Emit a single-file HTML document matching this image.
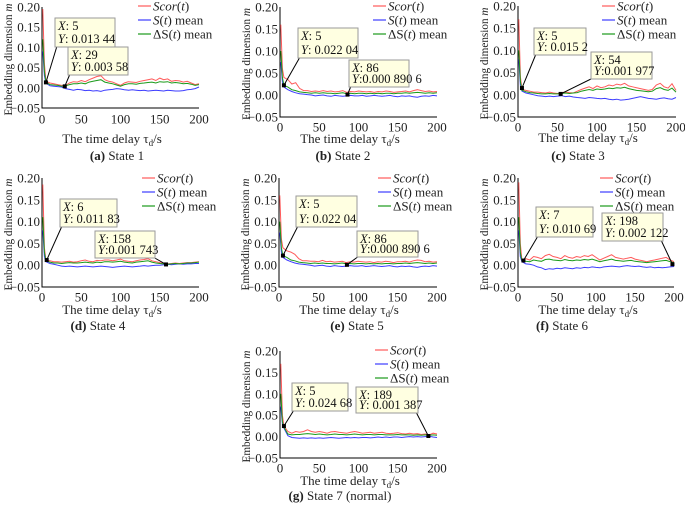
<!DOCTYPE html>
<html><head><meta charset="utf-8"><style>
html,body{margin:0;padding:0;background:#fff;}
svg{display:block;font-family:"Liberation Serif",serif;}
svg text{font-family:"Liberation Serif",serif;}
</style></head><body>
<svg id="fig" width="685" height="514" viewBox="0 0 685 514" font-family="Liberation Serif, serif"></svg>
<script>
const t = [1,3,5,10,15,20,25,30,35,40,45,50,55,60,65,70,75,80,85,90,95,100,105,110,115,120,125,130,135,140,145,150,155,160,165,170,175,180,185,190,195,200];
const xTicks = [0,50,100,150,200];
const yTicks = [0.20,0.15,0.10,0.05,0.00,-0.05];
const yTickLabels = ["0.20","0.15","0.10","0.05","0.00","\u22120.05"];

const scorA = [0.195,0.06,0.016,0.012,0.010,0.008,0.006,0.006,0.012,0.015,0.014,0.018,0.015,0.020,0.024,0.028,0.030,0.020,0.016,0.014,0.010,0.006,0.012,0.015,0.014,0.013,0.016,0.018,0.020,0.022,0.018,0.024,0.020,0.022,0.016,0.018,0.017,0.014,0.016,0.012,0.008,0.010];
const sA = [0.09,0.03,0.012,0.005,0.004,0.003,0.002,-0.002,-0.004,-0.006,-0.004,-0.005,-0.007,-0.006,-0.008,-0.007,-0.009,-0.006,-0.005,-0.004,-0.002,-0.003,-0.005,-0.006,-0.005,-0.006,-0.007,-0.006,-0.008,-0.007,-0.006,-0.007,-0.008,-0.006,-0.007,-0.008,-0.008,-0.007,-0.005,-0.004,-0.002,0.002];
const dA = [0.12,0.04,0.014,0.008,0.007,0.006,0.004,0.005,0.008,0.010,0.010,0.012,0.010,0.014,0.016,0.018,0.020,0.014,0.012,0.010,0.007,0.004,0.008,0.010,0.010,0.009,0.011,0.012,0.013,0.014,0.012,0.015,0.014,0.015,0.012,0.013,0.012,0.010,0.011,0.009,0.006,0.008];

const scorB = [0.16,0.06,0.04,0.035,0.025,0.028,0.015,0.010,0.010,0.008,0.009,0.008,0.010,0.008,0.009,0.007,0.008,0.010,0.006,0.008,0.007,0.009,0.008,0.007,0.008,0.006,0.008,0.007,0.009,0.008,0.006,0.007,0.008,0.009,0.007,0.010,0.012,0.010,0.008,0.009,0.007,0.008];
const sB = [0.075,0.03,0.018,0.012,0.008,0.005,0.003,0.002,0.001,0.000,-0.002,-0.001,0.000,-0.002,-0.003,-0.001,-0.002,-0.003,-0.002,-0.001,-0.002,-0.002,-0.001,-0.003,-0.002,-0.001,-0.002,-0.003,-0.002,-0.001,-0.003,-0.004,-0.002,-0.003,-0.002,-0.004,-0.005,-0.003,-0.002,-0.003,-0.001,-0.002];
const dB = [0.10,0.04,0.022,0.018,0.012,0.010,0.007,0.006,0.005,0.004,0.005,0.004,0.005,0.004,0.004,0.003,0.004,0.005,0.003,0.004,0.003,0.004,0.004,0.003,0.004,0.003,0.004,0.003,0.004,0.004,0.003,0.004,0.004,0.005,0.004,0.005,0.006,0.005,0.004,0.005,0.004,0.005];

const scorC = [0.17,0.04,0.012,0.010,0.008,0.006,0.006,0.005,0.004,0.006,0.004,0.003,0.005,0.006,0.005,0.004,0.008,0.012,0.015,0.018,0.014,0.020,0.016,0.018,0.022,0.020,0.024,0.022,0.026,0.020,0.018,0.016,0.014,0.012,0.010,0.012,0.022,0.026,0.018,0.015,0.025,0.010];
const sC = [0.08,0.02,0.008,0.004,0.002,0.000,-0.002,-0.003,-0.004,-0.003,-0.004,-0.003,-0.002,-0.004,-0.003,-0.005,-0.006,-0.007,-0.008,-0.006,-0.007,-0.008,-0.009,-0.008,-0.010,-0.011,-0.010,-0.012,-0.011,-0.010,-0.008,-0.006,-0.004,-0.006,-0.008,-0.009,-0.010,-0.008,-0.007,-0.009,-0.010,-0.006];
const dC = [0.10,0.03,0.010,0.007,0.005,0.004,0.003,0.002,0.002,0.003,0.002,0.002,0.003,0.004,0.003,0.004,0.005,0.008,0.010,0.012,0.010,0.013,0.012,0.013,0.015,0.014,0.016,0.015,0.017,0.014,0.012,0.010,0.009,0.008,0.007,0.008,0.014,0.016,0.012,0.010,0.015,0.006];

const scorD = [0.185,0.04,0.012,0.010,0.008,0.008,0.007,0.008,0.009,0.007,0.008,0.010,0.012,0.009,0.008,0.011,0.010,0.012,0.012,0.010,0.012,0.014,0.010,0.009,0.008,0.010,0.012,0.013,0.015,0.010,0.008,0.006,0.004,0.003,0.004,0.005,0.004,0.005,0.006,0.006,0.007,0.008];
const sD = [0.08,0.02,0.008,0.004,0.002,0.000,-0.002,-0.003,-0.002,-0.003,-0.004,-0.003,-0.002,-0.003,-0.004,-0.003,-0.002,-0.003,-0.004,-0.005,-0.004,-0.003,-0.002,-0.003,-0.004,-0.003,-0.002,-0.001,-0.002,-0.001,0.000,0.000,0.001,0.002,0.001,0.002,0.003,0.002,0.003,0.003,0.004,0.004];
const dD = [0.11,0.03,0.010,0.007,0.005,0.005,0.004,0.005,0.006,0.005,0.005,0.006,0.007,0.006,0.005,0.007,0.006,0.008,0.008,0.007,0.008,0.009,0.007,0.006,0.005,0.007,0.008,0.009,0.010,0.007,0.005,0.004,0.003,0.002,0.003,0.004,0.003,0.004,0.005,0.005,0.006,0.007];

const scorE = [0.16,0.06,0.04,0.033,0.030,0.025,0.015,0.010,0.010,0.009,0.009,0.008,0.011,0.008,0.009,0.007,0.008,0.009,0.006,0.008,0.007,0.009,0.008,0.007,0.008,0.006,0.008,0.007,0.009,0.008,0.006,0.008,0.008,0.009,0.007,0.010,0.012,0.011,0.008,0.009,0.007,0.008];
const sE = [0.075,0.03,0.018,0.012,0.008,0.005,0.003,0.002,0.001,0.000,-0.002,-0.001,0.000,-0.002,-0.003,-0.001,-0.002,-0.003,-0.002,-0.001,-0.002,-0.002,-0.001,-0.003,-0.002,-0.001,-0.002,-0.003,-0.002,-0.001,-0.003,-0.004,-0.002,-0.003,-0.002,-0.004,-0.005,-0.003,-0.002,-0.003,-0.001,-0.002];
const dE = [0.10,0.04,0.022,0.018,0.012,0.010,0.007,0.006,0.005,0.004,0.005,0.004,0.005,0.004,0.004,0.003,0.004,0.005,0.003,0.004,0.003,0.004,0.004,0.003,0.004,0.003,0.004,0.003,0.004,0.004,0.003,0.004,0.004,0.005,0.004,0.005,0.006,0.005,0.004,0.005,0.004,0.005];

const scorF = [0.19,0.05,0.012,0.015,0.012,0.020,0.018,0.015,0.022,0.025,0.020,0.018,0.015,0.022,0.018,0.016,0.020,0.018,0.022,0.020,0.024,0.018,0.012,0.016,0.020,0.024,0.018,0.016,0.014,0.016,0.018,0.014,0.012,0.010,0.008,0.010,0.012,0.014,0.016,0.018,0.012,0.008];
const sF = [0.08,0.02,0.008,0.003,0.002,0.000,-0.004,-0.006,-0.010,-0.008,-0.009,-0.007,-0.008,-0.006,-0.007,-0.008,-0.006,-0.007,-0.005,-0.006,-0.004,-0.005,-0.006,-0.004,-0.003,-0.002,-0.003,-0.004,-0.002,-0.001,-0.002,-0.003,-0.002,-0.004,-0.005,-0.004,-0.006,-0.005,-0.006,-0.005,-0.004,-0.003];
const dF = [0.11,0.03,0.010,0.009,0.008,0.012,0.010,0.009,0.013,0.014,0.012,0.011,0.010,0.013,0.011,0.010,0.012,0.011,0.013,0.012,0.014,0.011,0.008,0.010,0.012,0.014,0.011,0.010,0.009,0.010,0.011,0.009,0.008,0.007,0.006,0.007,0.008,0.009,0.010,0.011,0.008,0.006];

const scorG = [0.17,0.05,0.025,0.012,0.008,0.012,0.010,0.012,0.016,0.012,0.010,0.012,0.010,0.008,0.011,0.012,0.010,0.009,0.008,0.010,0.012,0.010,0.008,0.009,0.010,0.008,0.009,0.010,0.008,0.007,0.008,0.009,0.007,0.006,0.008,0.006,0.007,0.005,0.006,0.004,0.008,0.006];
const sG = [0.07,0.03,0.020,0.002,-0.002,-0.003,-0.004,-0.003,-0.004,-0.003,-0.004,-0.003,-0.004,-0.003,-0.002,-0.003,-0.004,-0.003,-0.002,-0.003,-0.002,-0.003,-0.002,-0.002,-0.003,-0.002,-0.001,-0.002,-0.001,-0.002,-0.001,-0.001,-0.002,-0.001,0.000,-0.001,0.000,-0.001,0.000,0.001,-0.001,-0.002];
const dG = [0.10,0.035,0.022,0.006,0.004,0.005,0.005,0.006,0.007,0.006,0.005,0.006,0.005,0.004,0.005,0.006,0.005,0.005,0.004,0.005,0.006,0.005,0.004,0.005,0.005,0.004,0.005,0.005,0.004,0.004,0.004,0.005,0.004,0.004,0.004,0.003,0.004,0.003,0.004,0.003,0.004,0.003];

const tipXs = [[5,29],[5,86],[5,54],[6,158],[5,86],[7,198],[5,189]];
const tipYs = [[0.01344,0.00358],[0.02204,0.0008906],[0.0152,0.001977],[0.01183,0.001743],[0.02204,0.0008906],[0.01069,0.002122],[0.02468,0.001387]];
const tipYLabels = [[": 0.013 44",": 0.003 58"],[": 0.022 04",":0.000 890 6"],[": 0.015 2",":0.001 977"],[": 0.011 83",":0.001 743"],[": 0.022 04",":0.000 890 6"],[": 0.010 69",": 0.002 122"],[": 0.024 68",": 0.001 387"]];
const captions = [["(a)"," State 1"],["(b)"," State 2"],["(c)"," State 3"],["(d)"," State 4"],["(e)"," State 5"],["(f)"," State 6"],["(g)"," State 7 (normal)"]];

const layouts = [
 {id:'a',x0:42,x1:199,yT:7,yB:108,tickY:119,xlab:139,leg:153,legY:6,boxes:[[55,18,60,29],[68,47,60,28]],cap:[117,160]},
 {id:'b',x0:280,x1:437,yT:7,yB:117,tickY:127,xlab:139,leg:388,legY:6,boxes:[[298,28,60,30],[349,60,60,27]],cap:[343,160]},
 {id:'c',x0:518,x1:676,yT:6,yB:117,tickY:127,xlab:138,leg:617,legY:6,boxes:[[534,28,52,27],[591,52,61,27]],cap:[578,160]},
 {id:'d',x0:42,x1:199,yT:178,yB:287,tickY:297,xlab:310,leg:157,legY:178,boxes:[[60,199,57,28],[95,231,60,27]],cap:[98,330]},
 {id:'e',x0:279,x1:437,yT:178,yB:287,tickY:297,xlab:310,leg:393,legY:178,boxes:[[296,196,61,31],[357,231,61,26]],cap:[357,330]},
 {id:'f',x0:518,x1:674,yT:178,yB:287,tickY:297,xlab:310,leg:615,legY:178,boxes:[[536,207,57,30],[602,213,61,28]],cap:[562,330]},
 {id:'g',x0:280,x1:437,yT:351,yB:458,tickY:468,xlab:481,leg:390,legY:350,boxes:[[292,383,56,28],[356,387,62,26]],cap:[340,500]}
];
const seriesSets = [[scorA,sA,dA],[scorB,sB,dB],[scorC,sC,dC],[scorD,sD,dD],[scorE,sE,dE],[scorF,sF,dF],[scorG,sG,dG]];
const colors = ['#ff5a5a','#3c3cff','#1a9a1a'];
const NS='http://www.w3.org/2000/svg';
const svg=document.getElementById('fig');
function mk(tag,attrs,parent){const e=document.createElementNS(NS,tag);for(const k in attrs)e.setAttribute(k,attrs[k]);if(tag==='text')e.setAttribute('font-family','Liberation Serif, serif');(parent||svg).appendChild(e);return e;}

layouts.forEach((L,pi)=>{
  const g=mk('g',{});
  
  
  const xs=v=>L.x0+(v/200)*(L.x1-L.x0);
  const ys=v=>L.yT+(0.20-v)/0.25*(L.yB-L.yT);
  const ax=mk('path',{d:`M${L.x0},${L.yT} V${L.yB} H${L.x1}`,stroke:'#000','stroke-width':1,fill:'none'},g);
  
  
  yTicks.forEach((v,i)=>{
    const tx=mk('text',{x:L.x0-2,y:ys(v)+4.5,'font-size':13,'text-anchor':'end',fill:'#222'},g);
    tx.textContent=yTickLabels[i];
    
    
  });
  xTicks.forEach(v=>{
    const tx=mk('text',{x:xs(v),y:L.tickY+4.5,'font-size':13,'text-anchor':'middle',fill:'#222'},g);
    tx.textContent=String(v);
    
    
  });
  const yc=(L.yT+L.yB)/2+2;
  const yl=mk('text',{x:0,y:0,'font-size':12,'text-anchor':'middle',fill:'#222',textLength:112,lengthAdjust:'spacingAndGlyphs',transform:`translate(${L.x0-30},${yc}) rotate(-90)`},g);
  yl.innerHTML='Embedding dimension <tspan font-style="italic">m</tspan>';
  
  
  const xl=mk('text',{x:L.x0+70,y:L.xlab+4,'font-size':13,'text-anchor':'middle',fill:'#222'},g);
  xl.innerHTML='The time delay τ<tspan font-size="9" dy="3">d</tspan><tspan dy="-3">/s</tspan>';
  
  
  const names=['scor-line','s-mean-line','delta-s-mean-line'];
  seriesSets[pi].forEach((arr,si)=>{
    let d='';
    arr.forEach((v,i)=>{ if(i<t.length) d+=(i?'L':'M')+xs(t[i]).toFixed(1)+','+ys(v).toFixed(1); });
    const p=mk('path',{d:d,stroke:colors[si],'stroke-width':1,fill:'none'},g);
    
    
  });
  const legLabels=['<tspan font-style="italic">Scor</tspan>(<tspan font-style="italic">t</tspan>)','<tspan font-style="italic">S</tspan>(<tspan font-style="italic">t</tspan>) mean','ΔS(<tspan font-style="italic">t</tspan>) mean'];
  const lg=mk('g',{},g);
  
  
  legLabels.forEach((lab,i)=>{
    const yy=L.legY+i*14;
    const ln=mk('line',{x1:L.leg-15,x2:L.leg-2,y1:yy,y2:yy,stroke:colors[i],'stroke-width':1.2},lg);
    
    
    const tx=mk('text',{x:L.leg,y:yy+4.5,'font-size':13,fill:'#222'},lg);
    tx.innerHTML=lab;
    
    
  });
  tipXs[pi].forEach((xv,k)=>{
    const B=L.boxes[k];
    const px=xs(xv), py=ys(tipYs[pi][k]);
    const lx = px > B[0]+B[2] ? B[0]+B[2]-2 : B[0]+2;
    const tg=mk('g',{},g);
    
    
    mk('line',{x1:lx,y1:B[1]+B[3]-1,x2:px,y2:py,stroke:'#000','stroke-width':1},tg);
    const r=mk('rect',{x:B[0],y:B[1],width:B[2],height:B[3],fill:'#ffffe1',stroke:'#9a9a9a','stroke-width':1},tg);
    
    
    const m=mk('rect',{x:px-2,y:py-2,width:4,height:4,fill:'#000'},tg);
    
    
    const t1=mk('text',{x:B[0]+3,y:B[1]+12,'font-size':12.5,fill:'#111'},tg);
    t1.innerHTML='<tspan font-style="italic">X</tspan>: '+xv;
    
    
    const t2=mk('text',{x:B[0]+3,y:B[1]+B[3]-4,'font-size':12.5,fill:'#111'},tg);
    t2.innerHTML='<tspan font-style="italic">Y</tspan>'+tipYLabels[pi][k];
    
    
  });
  const cp=mk('text',{x:L.cap[0],y:L.cap[1],'font-size':13,'text-anchor':'middle',fill:'#222'},g);
  cp.innerHTML='<tspan font-weight="bold">'+captions[pi][0]+'</tspan>'+captions[pi][1];
  
  
});
</script>
</body></html>
